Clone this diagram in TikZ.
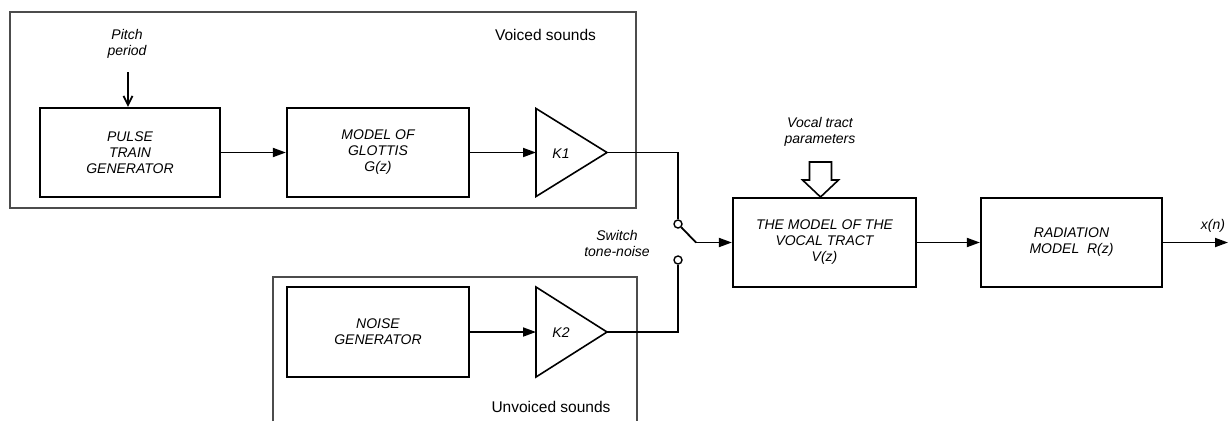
\documentclass[tikz,border=0pt]{standalone}
\usepackage{fontspec}
\setmainfont{Liberation Sans}
\usetikzlibrary{arrows.meta,positioning}
\begin{document}
\begin{tikzpicture}[x=1pt,y=-1pt,
  lbl/.style={font=\fontsize{14}{16}\selectfont\itshape, align=center, inner sep=0pt},
  grp/.style={font=\fontsize{15.5}{18}\selectfont, inner sep=0pt},
  blk/.style={draw, line width=2.2pt, minimum width=#1, inner sep=0pt, minimum height=89pt,
    font=\fontsize{14}{16}\selectfont\itshape, align=center},
  outer/.style={draw=black!70, line width=1.2pt},
  amp/.style={draw, line width=1.6pt, line join=miter},
  wire/.style={line width=1.8pt},
  arr/.style={wire, -{Triangle[length=13pt,width=9pt]}},
  term/.style={circle, draw, line width=1.4pt, minimum size=8pt, inner sep=0pt, fill=white}
]
\useasboundingbox (0,0) rectangle (1230,421);
% group boxes
\draw[outer] (10,12) rectangle (636,208);
\draw[outer] (273,421) |- (637,277) -- (637,421);
\node[grp] (voiced) at (545.5,35) {Voiced sounds};
\node[grp] (unvoiced) at (551,407) {Unvoiced sounds};

% blocks
\node[blk=180pt] (pulse) at (130,152.5) {PULSE\\TRAIN\\GENERATOR};
\node[blk=182pt] (glottis) at (378,152.5) {MODEL OF\\GLOTTIS\\G(z)};
\node[blk=182pt, minimum height=90pt] (noise) at (378,332) {NOISE\\GENERATOR};
\node[blk=183pt] (vt) at (824.5,242.5) {THE MODEL OF THE\\VOCAL TRACT\\V(z)};
\node[blk=181pt] (rad) at (1071.5,242.5) {RADIATION\\MODEL\ \ R(z)};

% amplifiers
\coordinate (k1in) at (536,152.5);
\coordinate (k1out) at (607,152.5);
\draw[amp] (536,108.5) -- (k1out) -- (536,196.5) -- cycle;
\node[lbl] (k1) at (561,153.5) {K1};
\coordinate (k2in) at (536,332);
\coordinate (k2out) at (607,332);
\draw[amp] (536,287) -- (k2out) -- (536,377) -- cycle;
\node[lbl] (k2) at (561,333) {K2};

% switch
\node[term] (s1) at (678,224) {};
\node[term] (s2) at (678,260) {};
\coordinate (arm) at (696,242.5);
\node[lbl] (swl) at (617,243) {Switch\\tone-noise};

% pitch period
\node[lbl] (pitch) at (127,44) {Pitch\\period};
\coordinate (pp) at (128,72);
\draw[wire, -{Straight Barb[length=9pt,width=9pt]}] (pp) -- (pulse.north -| pp);

% vocal tract params
\node[lbl] (vtp) at (820,132) {Vocal tract\\parameters};
\draw[line width=1.6pt, line join=miter, fill=white] (809.5,162) -- (831.5,162) -- (831.5,180) -- (838.5,180) -- (820.5,197) -- (802.5,180) -- (809.5,180) -- cycle;

% connections
\draw[arr] (pulse.east) -- (glottis.west);
\draw[arr] (glottis.east) -- (k1in);
\draw[arr] (noise.east) -- (k2in);
\draw[wire] (k1out) -| (s1.north);
\draw[wire] (k2out) -| (s2.south);
\draw[wire] (s1.south east) -- (arm);
\draw[arr] (arm) -- (vt.west |- arm);
\draw[arr] (vt.east) -- (rad.west);
\coordinate (xout) at (1228,242.5);
\draw[arr] (rad.east) -- (xout);
\node[lbl] (xn) at (1213,226) {x(n)};
\end{tikzpicture}
\end{document}
